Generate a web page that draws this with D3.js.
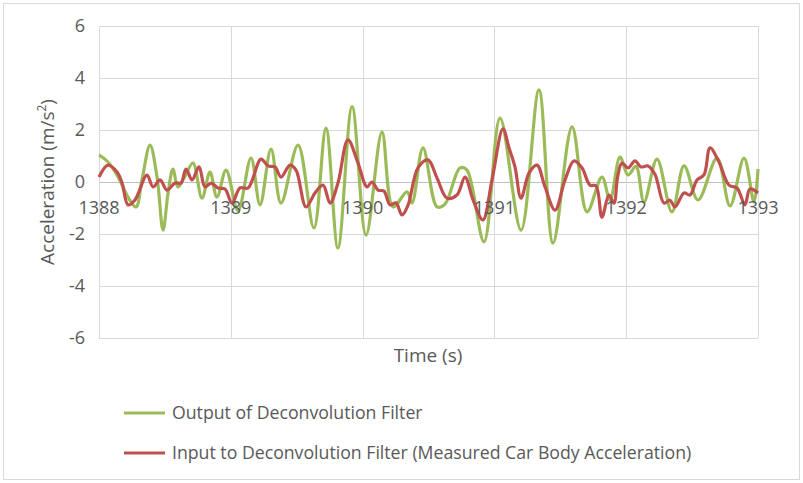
<!DOCTYPE html>
<html>
<head>
<meta charset="utf-8">
<script src="https://cdn.jsdelivr.net/npm/d3@7"></script>
<style>
  body { margin: 0; background: #fff; }
  text { font-family: "Open Sans", sans-serif; fill: #595959; }
</style>
</head>
<body>
<div id="chart"></div>
<script>
// green series: output of deconvolution filter
const outputTime = [1388.0, 1388.068, 1388.144, 1388.22, 1388.281, 1388.326, 1388.387, 1388.44, 1388.486,
  1388.524, 1388.561, 1388.599, 1388.65, 1388.713, 1388.781, 1388.842, 1388.895, 1388.964, 1389.055,
  1389.153, 1389.222, 1389.305, 1389.381, 1389.51, 1389.631, 1389.722, 1389.813, 1389.92, 1390.026,
  1390.147, 1390.231, 1390.337, 1390.375, 1390.458, 1390.565, 1390.625, 1390.739, 1390.792, 1390.921,
  1391.043, 1391.202, 1391.338, 1391.445, 1391.589, 1391.703, 1391.816, 1391.877, 1391.953, 1392.014,
  1392.074, 1392.135, 1392.234, 1392.347, 1392.439, 1392.545, 1392.689, 1392.788, 1392.894, 1392.97, 1393.0];
const outputValues = [1.04, 0.77, 0.2, -0.58, -0.96, 0.08, 1.42, 0.2, -1.85,
  -0.42, 0.5, -0.19, 0.2, 0.73, -0.62, 0.38, -0.58, 0.46, -1.1,
  0.92, -0.88, 1.27, -0.81, 1.42, -1.77, 2.07, -2.54, 2.9, -2.04,
  1.92, -0.96, -0.38, -0.81, 1.31, -0.96, -0.85, 0.54, 0.46, -2.3,
  2.46, -1.85, 3.54, -2.35, 2.12, -1.15, 0.19, -0.69, 0.96, 0.27,
  0.6, -0.77, 0.88, -1.15, 0.62, -0.69, 0.92, -0.92, 0.92, -0.77, 0.5];

// red series: input to deconvolution filter (measured car body acceleration)
const inputTime = [1388.0, 1388.068, 1388.137, 1388.175, 1388.22, 1388.273, 1388.364, 1388.41, 1388.463,
  1388.516, 1388.577, 1388.622, 1388.66, 1388.706, 1388.759, 1388.804, 1388.85, 1388.903, 1388.956,
  1389.009, 1389.07, 1389.131, 1389.229, 1389.282, 1389.335, 1389.381, 1389.449, 1389.495, 1389.571,
  1389.639, 1389.7, 1389.753, 1389.813, 1389.889, 1389.965, 1390.033, 1390.071, 1390.117, 1390.162,
  1390.208, 1390.253, 1390.299, 1390.344, 1390.42, 1390.496, 1390.565, 1390.64, 1390.716, 1390.777,
  1390.838, 1390.913, 1390.982, 1391.065, 1391.111, 1391.156, 1391.202, 1391.263, 1391.323, 1391.384,
  1391.46, 1391.536, 1391.604, 1391.665, 1391.725, 1391.771, 1391.816, 1391.869, 1391.907, 1391.935,
  1391.968, 1392.014, 1392.067, 1392.112, 1392.165, 1392.218, 1392.287, 1392.332, 1392.37, 1392.439,
  1392.484, 1392.537, 1392.59, 1392.636, 1392.704, 1392.78, 1392.841, 1392.901, 1392.939, 1393.0];
const inputValues = [0.19, 0.65, 0.38, -0.04, -0.88, -0.69, 0.27, -0.19, 0.08,
  -0.31, -0.04, -0.04, 0.5, 0.08, 0.58, -0.19, -0.04, -0.23, -0.27,
  -0.81, -0.23, -0.23, 0.88, 0.62, 0.58, 0.19, 0.65, 0.46, -0.96,
  -0.42, -0.12, -0.81, -0.04, 1.62, 0.73, -0.19, 0.0, -0.31, -0.35,
  -0.88, -0.8, -1.27, -0.9, 0.54, 0.85, 0.15, -0.62, -0.5, 0.19,
  -0.69, -1.46, 0.08, 2.04, 1.31, 0.58, -0.62, 0.35, 0.65, -0.19,
  -1.08, 0.08, 0.81, 0.54, -0.12, -0.15, -1.35, -0.5, -0.81, 0.2,
  0.73, 0.54, 0.81, 0.58, 0.62, 0.3, -0.81, -0.7, -0.96, -0.42,
  -0.5, 0.08, 0.27, 1.31, 0.77, -0.12, -0.23, -0.88, -0.27, -0.42];

const xTicks = [1388, 1389, 1390, 1391, 1392, 1393];
const yTicks = [-6, -4, -2, 0, 2, 4, 6];

const width = 803,
  height = 483;
const plotLeft = 99,
  plotRight = 758,
  plotTop = 26,
  plotBottom = 338;

const svg = d3
  .select("#chart")
  .append("svg")
  .attr("width", width)
  .attr("height", height);

// outer chart border
svg
  .append("rect")
  .attr("x", 3.5)
  .attr("y", 3.5)
  .attr("width", 796)
  .attr("height", 476)
  .attr("fill", "#fff")
  .attr("stroke", "#d9d9d9");

const x = d3.scaleLinear().domain([1388, 1393]).range([plotLeft, plotRight]);
const y = d3.scaleLinear().domain([-6, 6]).range([plotBottom, plotTop]);

// gridlines
svg
  .append("g")
  .selectAll("line")
  .data(yTicks)
  .enter()
  .append("line")
  .attr("x1", plotLeft)
  .attr("x2", plotRight)
  .attr("y1", (d) => Math.round(y(d)) + 0.5)
  .attr("y2", (d) => Math.round(y(d)) + 0.5)
  .attr("stroke", (d) => (d === 0 ? "#bfbfbf" : "#d9d9d9"));

svg
  .append("g")
  .selectAll("line")
  .data(xTicks)
  .enter()
  .append("line")
  .attr("x1", (d) => Math.round(x(d)) + 0.5)
  .attr("x2", (d) => Math.round(x(d)) + 0.5)
  .attr("y1", plotTop)
  .attr("y2", plotBottom)
  .attr("stroke", "#d9d9d9");

// y tick labels
svg
  .append("g")
  .selectAll("text")
  .data(yTicks)
  .enter()
  .append("text")
  .attr("x", 85)
  .attr("y", (d) => y(d))
  .attr("dy", "0.35em")
  .attr("text-anchor", "end")
  .style("font-size", "18px")
  .text((d) => d);

// series
const line = d3
  .line()
  .x((d) => x(d[0]))
  .y((d) => y(d[1]))
  .curve(d3.curveCatmullRom.alpha(0.5));

const outputData = d3.zip(outputTime, outputValues);
const inputData = d3.zip(inputTime, inputValues);

svg
  .append("path")
  .datum(outputData)
  .attr("d", line)
  .attr("fill", "none")
  .attr("stroke", "#9bbb59")
  .attr("stroke-width", 3.2)
  .attr("stroke-linejoin", "round");

svg
  .append("path")
  .datum(inputData)
  .attr("d", line)
  .attr("fill", "none")
  .attr("stroke", "#c0504d")
  .attr("stroke-width", 3.2)
  .attr("stroke-linejoin", "round");

// x tick labels sit under the zero line
svg
  .append("g")
  .selectAll("text")
  .data(xTicks)
  .enter()
  .append("text")
  .attr("x", (d) => x(d))
  .attr("y", y(0) + 26)
  .attr("dy", "0.35em")
  .attr("text-anchor", "middle")
  .style("font-size", "18px")
  .text((d) => d);

// axis titles
svg
  .append("text")
  .attr("x", 428)
  .attr("y", 362)
  .attr("text-anchor", "middle")
  .style("font-size", "19px")
  .text("Time (s)");

const yTitle = svg
  .append("text")
  .attr("transform", "translate(54,182) rotate(-90)")
  .attr("text-anchor", "middle")
  .style("font-size", "19px");
yTitle.append("tspan").text("Acceleration (m/s");
yTitle.append("tspan").attr("dy", -8).style("font-size", "12px").text("2");
yTitle.append("tspan").attr("dy", 8).text(")");

// legend
const legendItems = [
  { label: "Output of Deconvolution Filter", color: "#9bbb59" },
  { label: "Input to Deconvolution Filter (Measured Car Body Acceleration)", color: "#c0504d" },
];

const legend = svg
  .append("g")
  .selectAll("g")
  .data(legendItems)
  .enter()
  .append("g")
  .attr("transform", (d, i) => `translate(124,${413 + i * 40})`);

legend
  .append("line")
  .attr("x1", 0)
  .attr("x2", 41)
  .attr("stroke", (d) => d.color)
  .attr("stroke-width", 3.2);

legend
  .append("text")
  .attr("x", 48)
  .attr("dy", "0.35em")
  .style("font-size", "17.7px")
  .text((d) => d.label);
</script>
</body>
</html>
